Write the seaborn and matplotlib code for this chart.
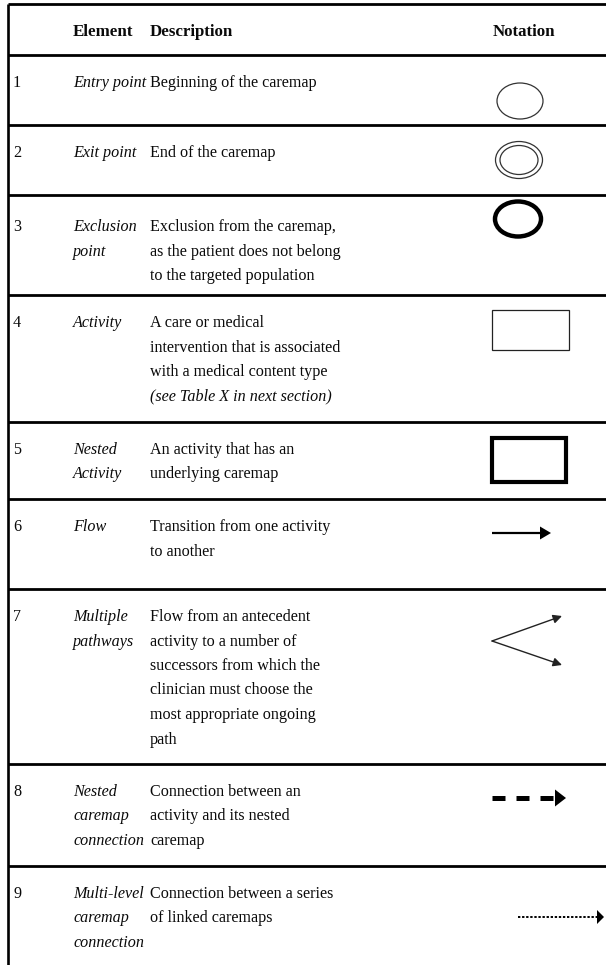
import matplotlib.pyplot as plt
import seaborn as sns
from matplotlib.patches import Ellipse, Rectangle, Polygon

sns.set_theme(style='white')
plt.rcParams['font.family'] = ['Liberation Serif', 'DejaVu Serif']

# Table content
headers = ['Element', 'Description', 'Notation']
numbers = ['1', '2', '3', '4', '5', '6', '7', '8', '9']
elements = [
    ['Entry point'],
    ['Exit point'],
    ['Exclusion', 'point'],
    ['Activity'],
    ['Nested', 'Activity'],
    ['Flow'],
    ['Multiple', 'pathways'],
    ['Nested', 'caremap', 'connection'],
    ['Multi-level', 'caremap', 'connection'],
]
descriptions = [
    ['Beginning of the caremap'],
    ['End of the caremap'],
    ['Exclusion from the caremap,', 'as the patient does not belong', 'to the targeted population'],
    ['A care or medical', 'intervention that is associated', 'with a medical content type',
     '(see Table X in next section)'],
    ['An activity that has an', 'underlying caremap'],
    ['Transition from one activity', 'to another'],
    ['Flow from an antecedent', 'activity to a number of', 'successors from which the',
     'clinician must choose the', 'most appropriate ongoing', 'path'],
    ['Connection between an', 'activity and its nested', 'caremap'],
    ['Connection between a series', 'of linked caremaps'],
]
italic_desc_lines = {(3, 3)}
notations = ['entry', 'exit', 'exclusion', 'activity', 'nested', 'flow',
             'pathways', 'dashed', 'dotted']

# layout (pixels)
W, H = 606, 965
row_edges = [4, 55, 125, 195, 295, 422, 499, 589, 764, 866]
row_shift = [0, 0, 4, 0, 0, 0, 0, 0, 0]
x_num, x_el, x_desc, x_not = 13, 73, 150, 493
fs = 11.6
lh = 24.5
pad = 32
ink = '#0a0a0a'

fig = plt.figure(figsize=(W / 100, H / 100), dpi=100)
ax = fig.add_axes([0, 0, 1, 1])
ax.set_xlim(0, W)
ax.set_ylim(H, 0)
ax.axis('off')

# borders
ax.hlines(row_edges, 8, W, color='black', lw=2.0)
ax.vlines(8, row_edges[0], H, color='black', lw=1.9)

# header
for x, h in zip([x_el, x_desc, x_not], headers):
    ax.text(x, 36, h, fontsize=12.2, fontweight='bold', va='baseline', color=ink)

tops = row_edges[1:]
for i, (num, el, desc) in enumerate(zip(numbers, elements, descriptions)):
    base = tops[i] + pad + row_shift[i]
    ax.text(x_num, base, num, fontsize=fs, va='baseline', color=ink)
    for j, line in enumerate(el):
        ax.text(x_el, base + j * lh, line, fontsize=fs, style='italic',
                va='baseline', color=ink)
    for j, line in enumerate(desc):
        st = 'italic' if (i, j) in italic_desc_lines else 'normal'
        ax.text(x_desc, base + j * lh, line, fontsize=fs, style=st,
                va='baseline', color=ink)


def head(x, y, w, h):
    ax.add_patch(Polygon([[x, y - h / 2], [x + w, y], [x, y + h / 2]],
                         closed=True, color='black', lw=0))


# notation symbols
for kind in notations:
    if kind == 'entry':
        ax.add_patch(Ellipse((520, 101), 46, 36, fill=False, ec='#333333', lw=0.9))
    elif kind == 'exit':
        ax.add_patch(Ellipse((519, 160), 47, 37, fill=False, ec='#333333', lw=0.9))
        ax.add_patch(Ellipse((519, 160), 38, 29, fill=False, ec='#333333', lw=0.9))
    elif kind == 'exclusion':
        ax.add_patch(Ellipse((518, 219), 46, 35, fill=False, ec='black', lw=3.2))
    elif kind == 'activity':
        ax.add_patch(Rectangle((492, 310), 77, 40, fill=False, ec='#222222', lw=0.9))
    elif kind == 'nested':
        ax.add_patch(Rectangle((492, 438), 74, 44, fill=False, ec='black', lw=3.0))
    elif kind == 'flow':
        ax.plot([492, 541], [533, 533], color='black', lw=1.6, solid_capstyle='butt')
        head(540, 533, 11, 13)
    elif kind == 'pathways':
        for ty in (616, 665):
            ax.annotate('', xy=(562, ty), xytext=(492, 641),
                        arrowprops=dict(arrowstyle='-|>', color='#222222', lw=1.0,
                                        mutation_scale=13, shrinkA=0, shrinkB=0))
    elif kind == 'dashed':
        ax.plot([492, 556], [798, 798], color='black', lw=3.6,
                dashes=(2.6, 2.2), solid_capstyle='butt', dash_capstyle='butt')
        head(555, 798, 11, 17)
    elif kind == 'dotted':
        ax.plot([518, 598], [917, 917], color='black', lw=1.4,
                dashes=(1.2, 0.9), dash_capstyle='butt')
        head(597, 917, 7, 14)

fig.savefig('out.png', dpi=100)
